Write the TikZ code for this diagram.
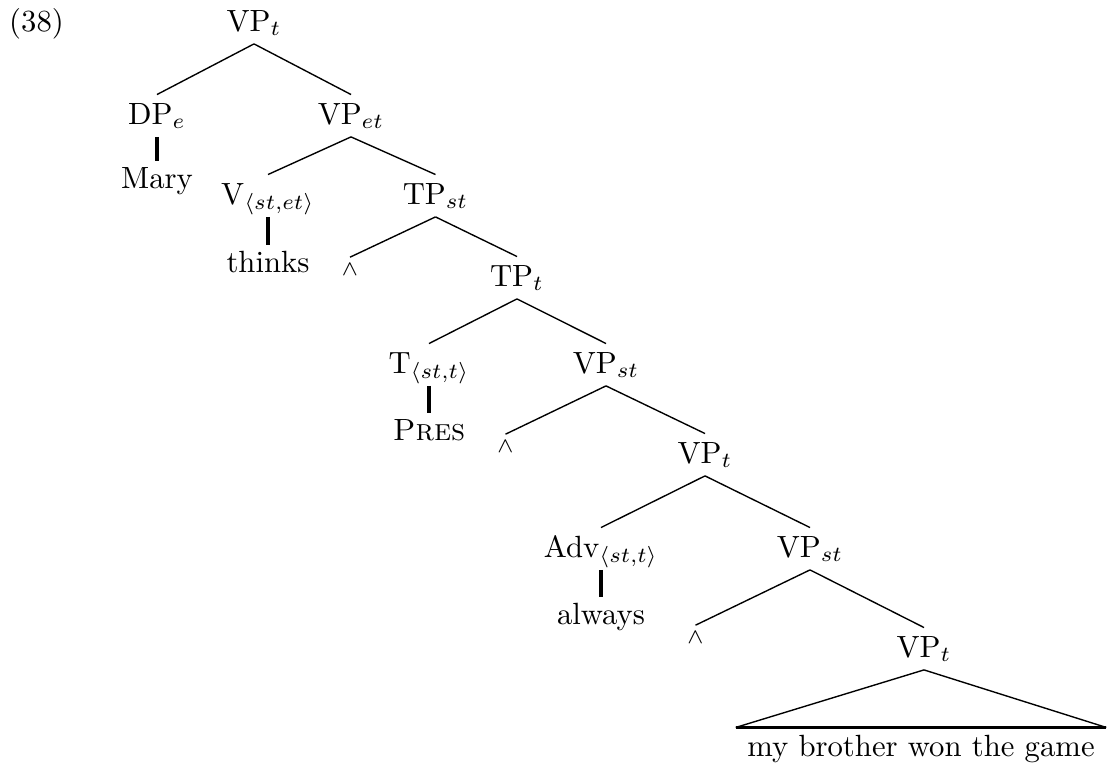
\documentclass[tikz,border=0pt]{standalone}
\usepackage{tikz}

\begin{document}
\begin{tikzpicture}[
    x=0.3257pt, y=-0.3257pt,
    cat/.style={
        anchor=base, inner sep=0pt,
        text height=9.4pt, text depth=4pt
    },
    leaf/.style={
        anchor=base, inner sep=0pt,
        text height=8.5pt, text depth=2pt
    },
    lam/.style={
        anchor=base, inner sep=0pt, font=\scriptsize,
        text height=5.6pt, text depth=0pt
    },
    phrase/.style={
        anchor=base, inner ysep=0pt, inner xsep=3.6pt,
        text height=9.1pt, text depth=2pt
    },
    edge/.style={line width=0.45pt},
    unary/.style={line width=1pt}
]
\useasboundingbox (0,0) rectangle (1107,765);

%% ---- Nodes at explicit (x,y) positions (pixel grid, y down) ----

% Example number
\node[anchor=base, inner sep=0pt] at (36.5, 31) (exno) {(38)};

% Spine of the tree, top to bottom
\node[cat]  at (254,  31) (vpA)    {VP$_t$};
\node[cat]  at (157, 124) (dp)     {DP$_e$};
\node[cat]  at (351, 124) (vpB)    {VP$_{et}$};
\node[cat]  at (268, 204) (verb)   {V$_{\langle st,et\rangle}$};
\node[cat]  at (435.5, 204) (tpA)  {TP$_{st}$};
\node[lam]  at (350, 275) (lamA)   {$\wedge$};
\node[cat]  at (517, 286) (tpB)    {TP$_t$};
\node[cat]  at (429, 373) (tense)  {T$_{\langle st,t\rangle}$};
\node[cat]  at (606, 373) (vpC)    {VP$_{st}$};
\node[lam]  at (505.5, 452) (lamB) {$\wedge$};
\node[cat]  at (705, 463) (vpD)    {VP$_t$};
\node[cat]  at (601, 557) (adv)    {Adv$_{\langle st,t\rangle}$};
\node[cat]  at (810, 557) (vpE)    {VP$_{st}$};
\node[lam]  at (695.5, 643) (lamC) {$\wedge$};
\node[cat]  at (924, 657) (vpF)    {VP$_t$};

% Words under the unary nodes
\node[leaf] at (157, 188) (mary)   {Mary};
\node[leaf] at (268, 272) (thinks) {thinks};
\node[leaf] at (429, 440) (pres)   {\textsc{Pres}};
\node[leaf] at (601, 624) (always) {always};

% Unanalysed clause under the triangle
\node[phrase] at (921, 756) (clause) {my brother won the game};

%% ---- Branches ----

% binary branching
\draw[edge] (vpA.south) -- (dp.north);
\draw[edge] (vpA.south) -- (vpB.north);
\draw[edge] (vpB.south) -- (verb.north);
\draw[edge] (vpB.south) -- (tpA.north);
\draw[edge] (tpA.south) -- (lamA.north);
\draw[edge] (tpA.south) -- (tpB.north);
\draw[edge] (tpB.south) -- (tense.north);
\draw[edge] (tpB.south) -- (vpC.north);
\draw[edge] (vpC.south) -- (lamB.north);
\draw[edge] (vpC.south) -- (vpD.north);
\draw[edge] (vpD.south) -- (adv.north);
\draw[edge] (vpD.south) -- (vpE.north);
\draw[edge] (vpE.south) -- (lamC.north);
\draw[edge] (vpE.south) -- (vpF.north);

% unary branches down to the words
\draw[unary] (dp.south)    -- (mary.north);
\draw[unary] (verb.south)  -- (thinks.north);
\draw[unary] (tense.south) -- (pres.north);
\draw[unary] (adv.south)   -- (always.north);

% triangle over the clause
\draw[edge]  (vpF.south) -- (clause.north west);
\draw[edge]  (vpF.south) -- (clause.north east);
\draw[unary] (clause.north west) -- (clause.north east);

\end{tikzpicture}
\end{document}
